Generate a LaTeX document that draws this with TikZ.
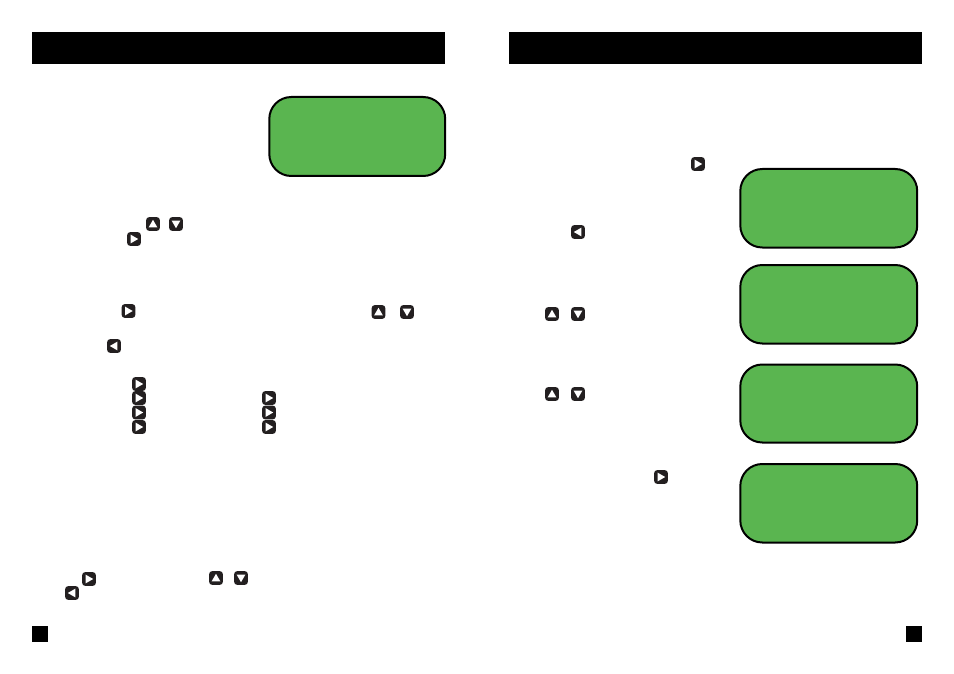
\documentclass[tikz,border=0pt]{standalone}
\definecolor{lcdgreen}{HTML}{5AB550}
\definecolor{btndark}{HTML}{231F20}
\tikzset{
  header/.style={fill=black,draw=none},
  lcd/.style={fill=lcdgreen,draw=black,line width=2pt,rounded corners=22pt},
  keycap/.style={fill=btndark,draw=none,rounded corners=2.8pt,minimum size=10pt,inner sep=0pt,outer sep=0pt},
  keyarrow/.style={fill=white,draw=none}
}
% #1 name, #2 x, #3 y, #4 rotation (0 = points right)
\newcommand{\keybtn}[4]{%
  \node[keycap,minimum size=13.6pt] (#1) at (#2,#3) {};
  \fill[keyarrow,shift={(#1.center)},rotate=#4] (-3.4pt,-4.4pt) -- (4.2pt,0pt) -- (-3.4pt,4.4pt) -- cycle;
}
\begin{document}
\begin{tikzpicture}[x=1pt,y=-1pt]
\useasboundingbox (0,0) rectangle (954,674);
\fill[white] (0,0) rectangle (954,674);
% headers and page markers
\fill[header] (32,32) rectangle (445,64);
\fill[header] (509,32) rectangle (922,64);
\fill[header] (32,626) rectangle (48,642);
\fill[header] (906,626) rectangle (922,642);
% displays
\draw[lcd] (269.3,97) rectangle (445.2,176);
\draw[lcd] (740.3,169) rectangle (917.2,247.5);
\draw[lcd] (740.3,265) rectangle (917.2,343.5);
\draw[lcd] (740.3,364.5) rectangle (917.2,442.5);
\draw[lcd] (740.3,464) rectangle (917.2,542.5);
% left page keys
\keybtn{a1}{153}{224}{90}
\keybtn{a2}{176}{224}{-90}
\keybtn{a3}{134}{239}{0}
\keybtn{b1}{128.5}{311}{0}
\keybtn{b2}{378.5}{312}{90}
\keybtn{b3}{407}{312}{-90}
\keybtn{b4}{114}{346}{180}
\keybtn{c1}{139}{384}{0}
\keybtn{c2}{139}{398}{0}
\keybtn{c3}{139}{412.5}{0}
\keybtn{c4}{139}{427}{0}
\keybtn{c5}{269}{398}{0}
\keybtn{c6}{269}{412.5}{0}
\keybtn{c7}{269}{427}{0}
\keybtn{d1}{89}{579}{0}
\keybtn{d2}{216}{578}{90}
\keybtn{d3}{241}{578}{-90}
\keybtn{d4}{72}{593}{180}
% right page keys
\keybtn{e1}{698}{164}{0}
\keybtn{e2}{578}{232}{180}
\keybtn{e3}{552}{314}{90}
\keybtn{e4}{578}{314}{-90}
\keybtn{e5}{552}{394}{90}
\keybtn{e6}{578}{394}{-90}
\keybtn{e7}{661}{477}{0}
\end{tikzpicture}
\end{document}
